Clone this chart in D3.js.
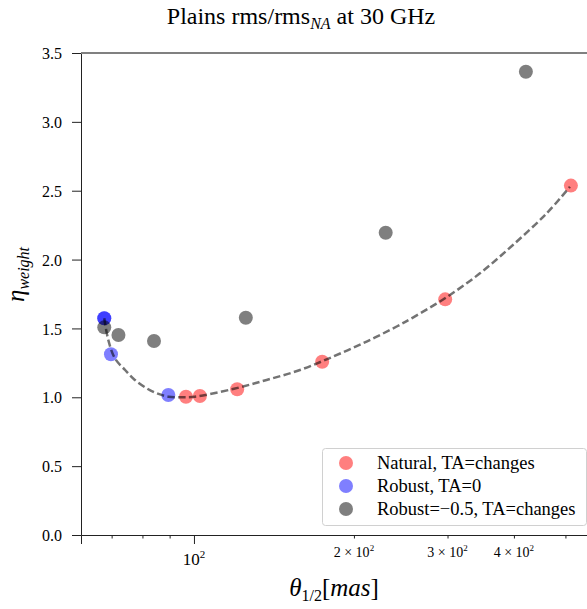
<!DOCTYPE html>
<html>
<head>
<meta charset="utf-8">
<script src="https://cdn.jsdelivr.net/npm/d3@7"></script>
<style>
  body { margin: 0; background: #fff; }
  svg text { font-family: "Liberation Serif", "DejaVu Serif", serif; fill: #000; }
</style>
</head>
<body>
<div id="canvas"></div>
<script>
// beam size theta_1/2 [mas] and eta_weight
const naturalTheta = [96.6, 102.6, 120.6, 174.3, 297, 512];
const naturalEta = [1.004, 1.009, 1.058, 1.258, 1.711, 2.537];

const robustTheta = [67.8, 67.8, 69.8, 89.5];
const robustEta = [1.574, 1.574, 1.312, 1.017];

const robustNegTheta = [67.8, 72.1, 84.1, 125.2, 229.5, 421.3];
const robustNegEta = [1.508, 1.452, 1.409, 1.578, 2.195, 3.364];

// dashed fit curve
const fitTheta = [67.8, 69.0, 71.0, 74.2, 77.4, 81.5, 85.1, 89.5, 94.8, 100.4, 118.4, 137.0,
  158.3, 182.6, 211.3, 240.7, 258.2, 296.7, 345.2, 398.3, 461.0, 509.9];
const fitEta = [1.574, 1.416, 1.283, 1.198, 1.126, 1.065, 1.029, 1.004, 1.000, 1.004, 1.060, 1.126,
  1.198, 1.295, 1.405, 1.514, 1.579, 1.719, 1.900, 2.106, 2.336, 2.529];

const yTicks = [0, 0.5, 1.0, 1.5, 2.0, 2.5, 3.0, 3.5];
const xMajor = [100];
const xMinor = [70, 80, 90, 200, 300, 400, 500];
const xMinorLabels = [200, 300, 400];

const legendLabels = ["Natural, TA=changes", "Robust, TA=0", "Robust=\u22120.5, TA=changes"];
const colors = ["rgba(255,0,0,0.5)", "rgba(0,0,255,0.5)", "rgba(0,0,0,0.5)"];

const serif = "'Liberation Serif', 'DejaVu Serif', serif";

const width = 587;
const height = 609;
const margin = { top: 53, left: 81, bottom: 74, right: 0 };
const iwidth = width - margin.left - margin.right;
const iheight = height - margin.top - margin.bottom;

const svg = d3.select("#canvas").append("svg")
  .attr("width", width)
  .attr("height", height)
  .style("font-family", serif);

const g = svg.append("g")
  .attr("transform", `translate(${margin.left},${margin.top})`);

const x = d3.scaleLog().domain([61.3, 549]).range([0, iwidth]);
const y = d3.scaleLinear().domain([0, 3.5]).range([iheight, 0]);

// title
const title = svg.append("text")
  .attr("x", 301).attr("y", 24)
  .attr("text-anchor", "middle")
  .style("font-size", "24px");
title.append("tspan").text("Plains rms/rms");
title.append("tspan").attr("dy", 5).style("font-size", "16px").style("font-style", "italic").text("NA");
title.append("tspan").attr("dy", -5).text(" at 30 GHz");

// y axis
const yAxis = g.append("g")
  .call(d3.axisLeft(y).tickValues(yTicks).tickFormat(d3.format(".1f")).tickSize(9).tickPadding(10))
  .attr("font-family", null);
yAxis.select(".domain").attr("stroke", "#222");
yAxis.selectAll(".tick line").attr("stroke", "#222");
yAxis.selectAll(".tick text")
  .style("font-size", "16px")
  .attr("dy", "0.35em");

// x axis: major and minor ticks
const xAxisMajor = g.append("g")
  .attr("transform", `translate(0,${iheight})`)
  .call(d3.axisBottom(x).tickValues(xMajor).tickFormat("").tickSize(9));
xAxisMajor.select(".domain").attr("stroke", "#222");
xAxisMajor.selectAll(".tick line").attr("stroke", "#222");

const xAxisMinor = g.append("g")
  .attr("transform", `translate(0,${iheight})`)
  .call(d3.axisBottom(x).tickValues(xMinor).tickFormat("").tickSize(3.5));
xAxisMinor.select(".domain").remove();
xAxisMinor.selectAll(".tick line").attr("stroke", "#222");

// top spine
g.append("line")
  .attr("x1", 0).attr("x2", iwidth)
  .attr("y1", 0).attr("y2", 0)
  .attr("stroke", "#808080").attr("stroke-width", 2);

// x tick labels
xMajor.forEach((v) => {
  const t = g.append("text")
    .attr("x", x(v)).attr("y", iheight + 30)
    .attr("text-anchor", "middle")
    .style("font-size", "17px");
  t.append("tspan").text("10");
  t.append("tspan").attr("dy", -7).style("font-size", "11px").text("2");
});
xMinorLabels.forEach((v) => {
  const t = g.append("text")
    .attr("x", x(v)).attr("y", iheight + 22)
    .attr("text-anchor", "middle")
    .style("font-size", "14px");
  t.append("tspan").text(`${v / 100} \u00d7 10`);
  t.append("tspan").attr("dy", -6).style("font-size", "9px").text("2");
});

// axis labels
const xl = svg.append("text")
  .attr("x", 334).attr("y", 596)
  .attr("text-anchor", "middle")
  .style("font-size", "25px");
xl.append("tspan").style("font-style", "italic").text("\u03b8");
xl.append("tspan").attr("dy", 5).style("font-size", "16px").text("1/2");
xl.append("tspan").attr("dy", -5).text("[");
xl.append("tspan").style("font-style", "italic").text("mas");
xl.append("tspan").text("]");

const yl = svg.append("text")
  .attr("transform", "translate(24,302) rotate(-90)")
  .attr("text-anchor", "start")
  .style("font-size", "25px");
yl.append("tspan").style("font-style", "italic").text("\u03b7");
yl.append("tspan").attr("dy", 5).style("font-size", "16px").style("font-style", "italic").text("weight");

// points
const series = [
  { xs: naturalTheta, ys: naturalEta },
  { xs: robustTheta, ys: robustEta },
  { xs: robustNegTheta, ys: robustNegEta }
];
series.forEach((s, k) => {
  g.selectAll(`circle.s${k}`)
    .data(s.xs.map((v, i) => [v, s.ys[i]]))
    .enter()
    .append("circle")
    .attr("class", `s${k}`)
    .attr("cx", (d) => x(d[0]))
    .attr("cy", (d) => y(d[1]))
    .attr("r", 7)
    .attr("fill", colors[k]);
});

// fit curve
const line = d3.line()
  .x((d) => x(d[0]))
  .y((d) => y(d[1]))
  .curve(d3.curveCatmullRom);
g.append("path")
  .datum(fitTheta.map((v, i) => [v, fitEta[i]]))
  .attr("d", line)
  .attr("fill", "none")
  .attr("stroke", "rgba(0,0,0,0.55)")
  .attr("stroke-width", 2.5)
  .attr("stroke-dasharray", "7.4,3.4");

// legend
const lg = svg.append("g").attr("transform", "translate(322,448)");
lg.append("rect")
  .attr("x", 0.5).attr("y", 0.5)
  .attr("width", 264).attr("height", 77)
  .attr("rx", 3)
  .attr("fill", "rgba(255,255,255,0.8)")
  .attr("stroke", "#d0d0d0");
legendLabels.forEach((label, i) => {
  const cy = 15 + i * 23;
  lg.append("circle").attr("cx", 24).attr("cy", cy).attr("r", 7).attr("fill", colors[i]);
  lg.append("text")
    .attr("x", 55).attr("y", cy + 6)
    .style("font-size", "18.5px")
    .text(label);
});
</script>
</body>
</html>
